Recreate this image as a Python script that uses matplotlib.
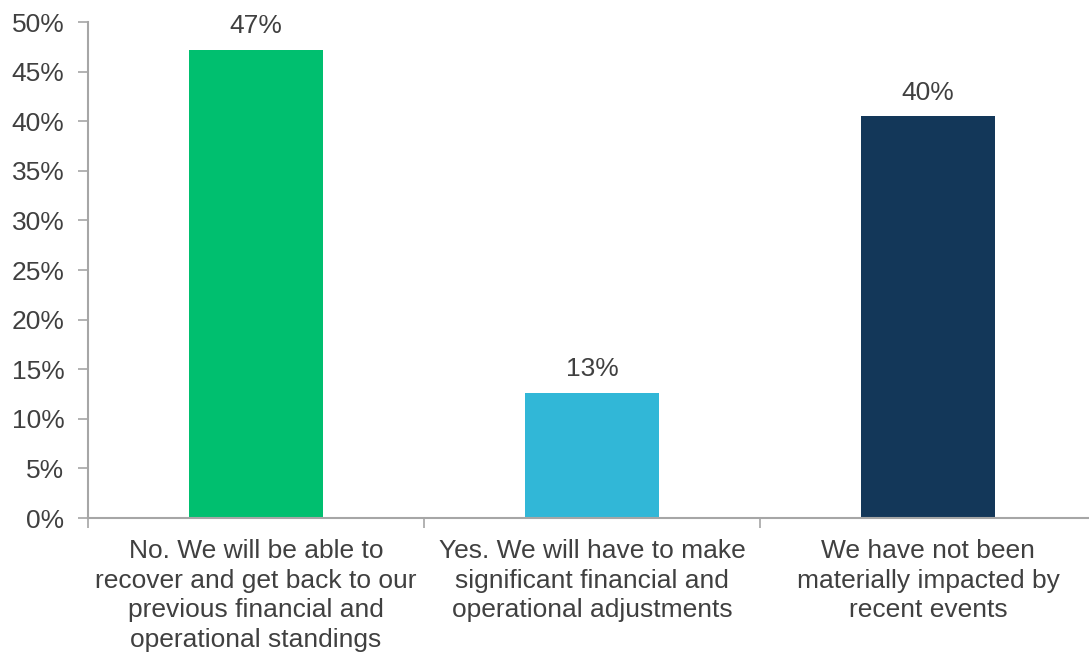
import matplotlib
matplotlib.use("Agg")
import matplotlib.pyplot as plt
from matplotlib.ticker import MultipleLocator, FuncFormatter

categories = [
    "No. We will be able to\nrecover and get back to our\nprevious financial and\noperational standings",
    "Yes. We will have to make\nsignificant financial and\noperational adjustments",
    "We have not been\nmaterially impacted by\nrecent events",
]
values = [47.2, 12.6, 40.5]
value_labels = ["47%", "13%", "40%"]
colors = ["#00BF6F", "#31B7D7", "#133759"]

plt.rcParams["font.family"] = ["Liberation Sans", "DejaVu Sans"]
text_color = "#404040"
axis_color = "#A6A6A6"
fs = 19

fig = plt.figure(figsize=(10.89, 6.55), dpi=100)
ax = fig.add_axes([88 / 1089, 137 / 655, 1008 / 1089, 496 / 655])

x = list(range(len(categories)))
bars = ax.bar(x, values, width=0.40, color=colors, zorder=2)

for b, lab in zip(bars, value_labels):
    ax.annotate(lab, (b.get_x() + b.get_width() / 2, b.get_height()),
                xytext=(0, 12), textcoords="offset points",
                ha="center", va="baseline", fontsize=fs, color=text_color)

ax.set_xlim(-0.5, len(categories) - 0.5)
ax.set_ylim(0, 50)
ax.yaxis.set_major_locator(MultipleLocator(5))
ax.yaxis.set_major_formatter(FuncFormatter(lambda v, _: f"{v:.0f}%"))

ax.set_xticks(x)
ax.set_xticklabels(categories, fontsize=fs, color=text_color, linespacing=1.3)
ax.tick_params(axis="x", length=0, pad=15)
# boundary ticks between categories
ax.set_xticks([-0.5, 0.5, 1.5, 2.5], minor=True)
ax.tick_params(axis="x", which="minor", length=7, width=1.2, color=axis_color, direction="out")

ax.tick_params(axis="y", length=7, width=1.2, color=axis_color, labelsize=fs,
               labelcolor=text_color, pad=10)

for side in ["top", "right"]:
    ax.spines[side].set_visible(False)
for side in ["left", "bottom"]:
    ax.spines[side].set_color(axis_color)
    ax.spines[side].set_linewidth(1.5)

fig.savefig("out.png", dpi=100)
